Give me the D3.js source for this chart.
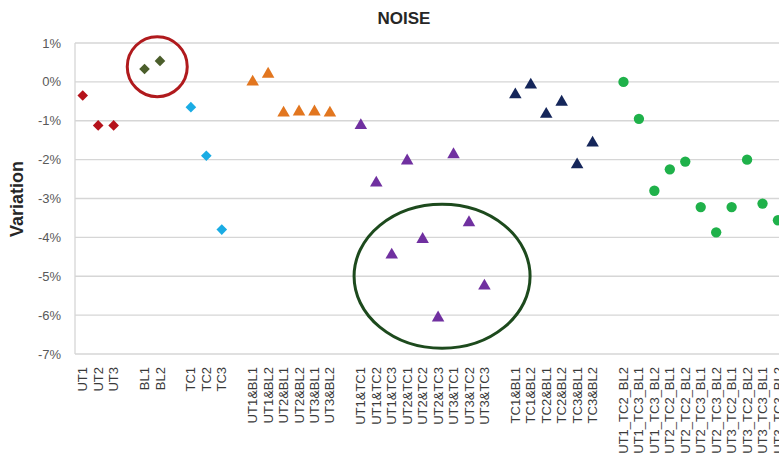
<!DOCTYPE html>
<html>
<head>
<meta charset="utf-8">
<script src="https://cdn.jsdelivr.net/npm/d3@7"></script>
<style>
  html, body { margin: 0; padding: 0; background: #fff; overflow: hidden; }
  svg { display: block; font-family: "Liberation Sans", Arial, sans-serif; }
</style>
</head>
<body>
<svg id="chart" width="779" height="461"></svg>
<script>
// ---- data (values in %) ----
const title = "NOISE";
const yLabel = "Variation";
const yTicks = [1, 0, -1, -2, -3, -4, -5, -6, -7];

const catUT = ["UT1", "UT2", "UT3"];
const valUT = [-0.35, -1.12, -1.12];

const catBL = ["BL1", "BL2"];
const valBL = [0.33, 0.54];

const catTC = ["TC1", "TC2", "TC3"];
const valTC = [-0.65, -1.9, -3.8];

const catUTBL = ["UT1&BL1", "UT1&BL2", "UT2&BL1", "UT2&BL2", "UT3&BL1", "UT3&BL2"];
const valUTBL = [0.0, 0.2, -0.8, -0.77, -0.77, -0.8];

const catUTTC = ["UT1&TC1", "UT1&TC2", "UT1&TC3", "UT2&TC1", "UT2&TC2", "UT2&TC3", "UT3&TC1", "UT3&TC2", "UT3&TC3"];
const valUTTC = [-1.12, -2.6, -4.45, -2.03, -4.05, -6.07, -1.87, -3.62, -5.25];

const catTCBL = ["TC1&BL1", "TC1&BL2", "TC2&BL1", "TC2&BL2", "TC3&BL1", "TC3&BL2"];
const valTCBL = [-0.33, -0.08, -0.83, -0.52, -2.13, -1.57];

const catUTTCBL = ["UT1_TC2_BL2", "UT1_TC3_BL1", "UT1_TC3_BL2", "UT2_TC2_BL1", "UT2_TC2_BL2", "UT2_TC3_BL1", "UT2_TC3_BL2", "UT3_TC2_BL1", "UT3_TC2_BL2", "UT3_TC3_BL1", "UT3_TC3_BL2"];
const valUTTCBL = [0.0, -0.95, -2.8, -2.25, -2.05, -3.22, -3.87, -3.22, -2.0, -3.13, -3.56];

// ---- series styling ----
const groups = [
  { cats: catUT,     vals: valUT,     shape: d3.symbolDiamond2, color: "#b5121b", size: 72 },
  { cats: catBL,     vals: valBL,     shape: d3.symbolDiamond2, color: "#4b5e2b", size: 72 },
  { cats: catTC,     vals: valTC,     shape: d3.symbolDiamond2, color: "#1aace4", size: 72 },
  { cats: catUTBL,   vals: valUTBL,   shape: d3.symbolTriangle, color: "#e2761f", size: 68 },
  { cats: catUTTC,   vals: valUTTC,   shape: d3.symbolTriangle, color: "#7030a0", size: 68 },
  { cats: catTCBL,   vals: valTCBL,   shape: d3.symbolTriangle, color: "#15265a", size: 68 },
  { cats: catUTTCBL, vals: valUTTCBL, shape: d3.symbolCircle,   color: "#1fb14a", size: 84 }
];

// build slot list with a blank gap slot between groups
const slots = [];
groups.forEach((g, gi) => {
  g.cats.forEach(c => slots.push(c));
  slots.push("__gap" + gi);
});

const svg = d3.select("#chart");
const left = 75, step = 15.45;
const x = d3.scaleBand()
  .domain(slots)
  .range([left, left + slots.length * step])
  .paddingInner(0).paddingOuter(0);
const xc = c => x(c) + x.bandwidth() / 2;

const y = d3.scaleLinear().domain([-7, 1]).range([354, 43]);

const plotRight = left + slots.length * step;

// gridlines
svg.append("g").selectAll("line")
  .data(yTicks)
  .join("line")
  .attr("x1", left).attr("x2", plotRight)
  .attr("y1", d => y(d)).attr("y2", d => y(d))
  .attr("stroke", "#d6d6d6").attr("stroke-width", 1.3);

// left axis line
svg.append("line")
  .attr("x1", left).attr("x2", left)
  .attr("y1", y(1)).attr("y2", y(-7))
  .attr("stroke", "#d6d6d6").attr("stroke-width", 1.3);

// y tick labels
svg.append("g").selectAll("text")
  .data(yTicks)
  .join("text")
  .attr("x", 61).attr("y", d => y(d))
  .attr("dy", "0.35em")
  .attr("text-anchor", "end")
  .attr("font-size", 13)
  .attr("fill", "#595959")
  .text(d => `${d}%`);

// x labels
const allCats = groups.flatMap(g => g.cats);
svg.append("g").selectAll("text")
  .data(allCats)
  .join("text")
  .attr("transform", d => `translate(${xc(d)},367) rotate(-90)`)
  .attr("dy", "0.35em")
  .attr("text-anchor", "end")
  .attr("font-size", 13)
  .attr("fill", "#3a3a3a")
  .text(d => d);

// markers
groups.forEach(g => {
  const sym = d3.symbol().type(g.shape).size(g.size);
  svg.append("g").selectAll("path")
    .data(g.cats.map((c, i) => ({ c, v: g.vals[i] })))
    .join("path")
    .attr("transform", d => `translate(${xc(d.c)},${y(d.v)})`)
    .attr("d", sym())
    .attr("fill", g.color);
});

// annotation ellipses
const redCx = (xc("BL1") + xc("BL2")) / 2 + 5;
svg.append("ellipse")
  .attr("cx", redCx).attr("cy", y(0.39))
  .attr("rx", 30).attr("ry", 30)
  .attr("fill", "none").attr("stroke", "#b01a1d").attr("stroke-width", 3);

const grnCx = (xc("UT1&TC3") + xc("UT3&TC3")) / 2 + 4;
svg.append("ellipse")
  .attr("cx", grnCx).attr("cy", y(-5))
  .attr("rx", 88).attr("ry", 72)
  .attr("fill", "none").attr("stroke", "#1d4a1d").attr("stroke-width", 3);

// title
svg.append("text")
  .attr("x", 404).attr("y", 24)
  .attr("text-anchor", "middle")
  .attr("font-size", 17).attr("font-weight", "bold")
  .attr("fill", "#262626")
  .text(title);

// y label
svg.append("text")
  .attr("transform", "translate(23,199) rotate(-90)")
  .attr("text-anchor", "middle")
  .attr("font-size", 18).attr("font-weight", "bold")
  .attr("fill", "#262626")
  .text(yLabel);
</script>
</body>
</html>
